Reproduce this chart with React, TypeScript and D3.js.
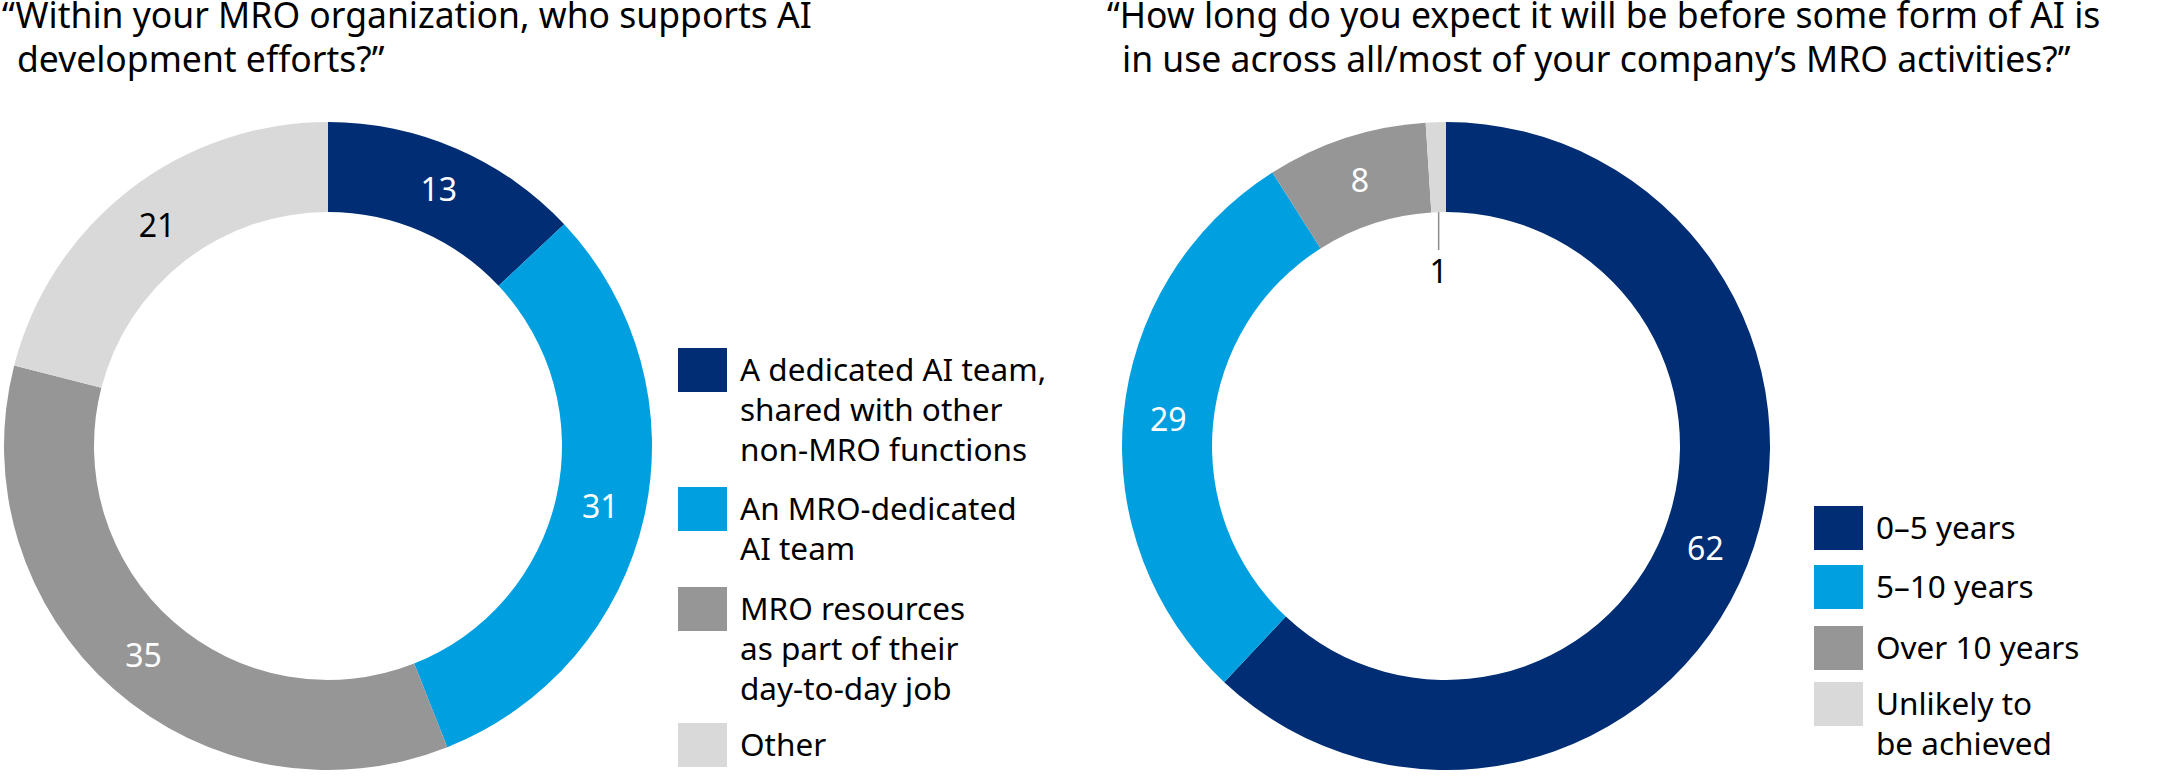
import React from "react";
import * as d3 from "d3";

const W = 2167;
const H = 778;

const leftTitle = ["“Within your MRO organization, who supports AI", "development efforts?”"];
const rightTitle = ["“How long do you expect it will be before some form of AI is", "in use across all/most of your company’s MRO activities?”"];

const leftCategories = [
  ["A dedicated AI team,", "shared with other", "non-MRO functions"],
  ["An MRO-dedicated", "AI team"],
  ["MRO resources", "as part of their", "day-to-day job"],
  ["Other"],
];
const leftValues = [13, 31, 35, 21];

const rightCategories = [["0–5 years"], ["5–10 years"], ["Over 10 years"], ["Unlikely to", "be achieved"]];
const rightValues = [62, 29, 8, 1];

const colors = ["#002D74", "#009FE0", "#969696", "#D9D9D9"];
const labelColors = ["#fff", "#fff", "#fff", "#000"];

const FONT = "'Noto Sans', 'Open Sans', sans-serif";
const TITLE_SIZE = 35.5;
const LEGEND_SIZE = 31.5;
const LABEL_SIZE = 32;

type DonutProps = {
  cx: number;
  cy: number;
  values: number[];
  outerLabelIndex?: number;
};

function Donut({ cx, cy, values, outerLabelIndex }: DonutProps) {
  const rOuter = 324;
  const rInner = 234;
  const pie = d3.pie<number>().sort(null).value((d) => d);
  const arcs = pie(values);
  const arc = d3.arc<d3.PieArcDatum<number>>().innerRadius(rInner).outerRadius(rOuter);
  const labelArc = d3.arc<d3.PieArcDatum<number>>().innerRadius(279).outerRadius(279);
  return (
    <g transform={`translate(${cx},${cy})`}>
      {arcs.map((a, i) => (
        <path key={i} d={arc(a) || ""} fill={colors[i]} />
      ))}
      {arcs.map((a, i) => {
        if (i === outerLabelIndex) {
          const mid = (a.startAngle + a.endAngle) / 2;
          const x = rInner * Math.sin(mid);
          const y0 = -rInner * Math.cos(mid);
          return (
            <g key={"l" + i}>
              <line x1={x} x2={x} y1={y0} y2={y0 + 38} stroke="#8c8c8c" strokeWidth={1.5} />
              <text x={x} y={y0 + 71} textAnchor="middle" fontSize={LABEL_SIZE} fill="#000" fontFamily={FONT}>
                {a.data}
              </text>
            </g>
          );
        }
        const [x, y] = labelArc.centroid(a);
        return (
          <text
            key={"l" + i}
            x={x}
            y={y}
            dy="0.36em"
            textAnchor="middle"
            fontSize={LABEL_SIZE}
            fill={labelColors[i]}
            fontFamily={FONT}
          >
            {a.data}
          </text>
        );
      })}
    </g>
  );
}

type LegendProps = {
  x: number;
  tops: number[];
  items: string[][];
  lineHeight: number;
};

function Legend({ x, tops, items, lineHeight }: LegendProps) {
  return (
    <g>
      {items.map((lines, i) => (
        <g key={i}>
          <rect x={x} y={tops[i]} width={49} height={44} fill={colors[i]} />
          {lines.map((ln, j) => (
            <text key={j} x={x + 62} y={tops[i] + 33 + j * lineHeight} fontSize={LEGEND_SIZE} fill="#000" fontFamily={FONT}>
              {ln}
            </text>
          ))}
        </g>
      ))}
    </g>
  );
}

export default function App() {
  return (
    <svg width={W} height={H} style={{ position: "absolute", left: 0, top: 0, background: "#fff" }}>
      <text x={2} y={28} fontSize={TITLE_SIZE} fontFamily={FONT} fill="#000">{leftTitle[0]}</text>
      <text x={17} y={72} fontSize={TITLE_SIZE} fontFamily={FONT} fill="#000">{leftTitle[1]}</text>
      <text x={1107} y={28} fontSize={TITLE_SIZE} fontFamily={FONT} fill="#000">{rightTitle[0]}</text>
      <text x={1122} y={72} fontSize={TITLE_SIZE} fontFamily={FONT} fill="#000">{rightTitle[1]}</text>

      <Donut cx={328} cy={446} values={leftValues} />
      <Donut cx={1446} cy={446} values={rightValues} outerLabelIndex={3} />

      <Legend x={678} tops={[348, 487, 587, 723]} items={leftCategories} lineHeight={40} />
      <Legend x={1814} tops={[506, 565, 626, 682]} items={rightCategories} lineHeight={40} />
    </svg>
  );
}
